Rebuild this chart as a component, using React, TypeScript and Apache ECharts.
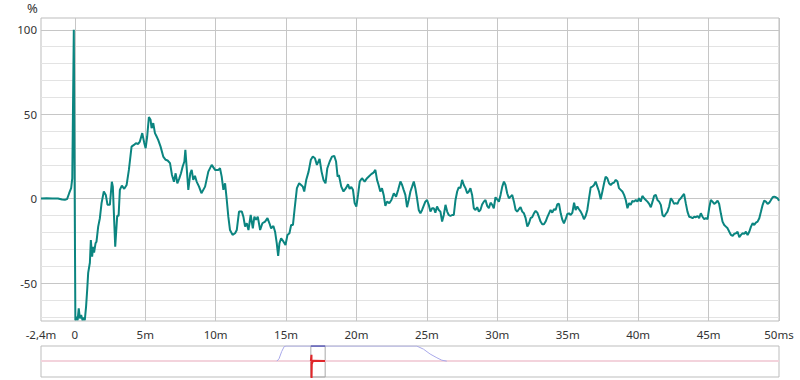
import React, { useEffect, useRef } from "react";
import * as echarts from "echarts";

// Impulse response, time in ms, value in %
const irStart: [number, number][] = [
  [-2.4, 0], [-2.0, 0.2], [-1.6, 0], [-1.2, 0.1], [-0.9, -0.5], [-0.7, -0.7], [-0.55, -0.3],
  [-0.4, 3.2], [-0.26, 6.2], [-0.18, 12], [-0.07, 100], [0.04, -72], [0.12, -70], [0.2, -72],
  [0.28, -65], [0.36, -71], [0.45, -69], [0.55, -72], [0.64, -70.5], [0.71, -72],
  [0.8, -64], [0.88, -54], [0.95, -44], [1.07, -38], [1.14, -24.5], [1.23, -34.4], [1.3, -28.5],
  [1.37, -32], [1.47, -26.5], [1.54, -25.5], [1.66, -16.6], [1.78, -11.6], [1.9, -2.7], [2.06, 4.2],
  [2.2, 2.2], [2.32, -3.6], [2.49, -3.7], [2.63, 10], [2.7, 7.1], [2.87, -28.5], [3.01, -10.2],
  [3.11, -10.2], [3.2, 5.2], [3.34, 7.7], [3.51, 5.8], [3.68, 8.1], [3.84, 17], [4.03, 30.8],
  [4.2, 31.8], [4.34, 32.8], [4.5, 32.4], [4.62, 33.8], [4.79, 38.8], [4.93, 33], [5.03, 29.9],
  [5.14, 36.8], [5.26, 48.3], [5.38, 46.7], [5.45, 41.7], [5.57, 44.7], [5.69, 38.8], [5.81, 36.8],
  [5.92, 34.8], [6.09, 30.8], [6.28, 24.9], [6.45, 23], [6.59, 22.6], [6.76, 21], [6.9, 14],
  [7.04, 10], [7.16, 15], [7.28, 9.1], [7.42, 12],
];
const irEarly: [number, number][] = [
  [7.54, 15], [7.66, 19], [7.78, 22], [7.85, 28.9], [8.0, 12], [8.06, 5.2], [8.2, 15], [8.3, 17],
  [8.41, 11.1], [8.53, 13.5], [8.65, 10.1], [8.82, 7.1], [8.99, 3.2], [9.25, 7.1], [9.48, 16],
  [9.72, 20], [9.96, 17], [10.2, 17], [10.31, 18], [10.43, 13], [10.55, 5.2], [10.67, 9.1],
  [10.79, -0.8], [10.9, -10.7], [11.02, -18.6], [11.2, -21.5], [11.38, -20.5], [11.5, -18.6],
  [11.66, -7.7], [11.86, -7.7], [11.97, -10.7], [12.09, -16.6], [12.21, -14.6], [12.33, -18.6],
  [12.49, -9.7], [12.64, -17.6], [12.75, -10.7], [12.87, -12.6], [12.99, -10.7], [13.16, -18.6],
  [13.32, -14.6], [13.51, -13.6], [13.68, -11.6], [13.82, -14.6], [13.94, -17.6], [14.1, -16.2],
  [14.22, -19.6], [14.34, -26.5], [14.44, -34], [14.53, -26.5], [14.65, -23.5], [14.82, -25.5],
  [14.96, -27.5], [15.1, -21.5], [15.24, -20.5], [15.36, -15.6], [15.49, -15.6], [15.6, -6.7],
  [15.77, 6.2], [15.93, 9.1], [16.07, 8.1], [16.19, 7.1], [16.29, 4.2], [16.43, 11], [16.6, 16],
  [16.76, 23], [16.9, 24.9], [17.05, 23.9], [17.19, 20], [17.38, 23.5], [17.52, 16], [17.66, 11],
  [17.8, 9.1], [17.93, 18], [18.1, 22], [18.26, 24.9], [18.42, 25.3],
];
const irMiddle: [number, number][] = [
  [18.55, 22], [18.66, 13], [18.75, 14], [18.92, 7.1], [19.08, 4.2], [19.25, 6.2], [19.4, 8.5],
  [19.51, 5.8], [19.63, 6.9], [19.75, 5.2], [19.87, -2.7], [19.99, -4.7], [20.11, 2.2], [20.23, 10.1],
  [20.39, 12.1], [20.58, 10.1], [20.75, 12.1], [20.86, 13], [21.05, 14.5], [21.21, 15.4], [21.34, 17],
  [21.46, 11.1], [21.57, 8.1], [21.69, 4.2], [21.81, 6.2], [21.93, 2.2], [22.05, -4.3], [22.17, -1.8],
  [22.33, -2.7], [22.48, -0.8], [22.65, 3.2], [22.81, 1.2], [22.96, 5.2], [23.12, 10.1], [23.24, 8.1],
  [23.35, 5.2], [23.47, 2.2], [23.59, -5.1], [23.71, -0.8], [23.83, 4.2], [23.95, 7.1], [24.07, 10.1],
  [24.18, 6.2], [24.3, 0.2], [24.42, -6.7], [24.54, -8.7], [24.66, -6.7], [24.77, -4.3], [24.89, -1.8],
  [25.01, -0.8], [25.13, -3.7], [25.25, -7.7], [25.37, -5.7], [25.49, -5.7], [25.6, -8.3], [25.72, -4.7],
  [25.84, -6.7], [25.96, -7.7], [26.08, -13.6], [26.2, -9.7], [26.32, -3.7], [26.44, -7.7], [26.55, -9.7],
  [26.67, -10.3], [26.79, -9.7], [26.91, -9.7], [27.03, -0.8], [27.15, 4.2], [27.26, 6.7], [27.38, 6.2],
  [27.5, 11.1], [27.62, 8.1], [27.74, 6.2], [27.86, 3.2], [27.98, 4.2], [28.09, 6.2], [28.21, 2.2],
  [28.33, -5.7], [28.45, -6.7], [28.57, -5.1], [28.69, -7.7], [28.8, -6.7],
];
const irLate: [number, number][] = [
  [28.92, -3.5], [29.04, -1.8], [29.16, -0.8], [29.28, -4.3], [29.4, -5.7], [29.52, -2.4], [29.64, -3.7],
  [29.75, -5.7], [29.87, 0.8], [29.99, -0.4], [30.11, -1.8], [30.23, 2.2], [30.35, 7.1], [30.47, 10.1],
  [30.58, 8.1], [30.7, 3.2], [30.82, 0.2], [30.94, 1.2], [31.06, 2.2], [31.18, -1.8], [31.3, -6.7],
  [31.41, -7.7], [31.53, -6.3], [31.65, -5.1], [31.77, -7.7], [31.89, -8.7], [32.01, -11.6], [32.13, -16.6],
  [32.25, -14.6], [32.36, -11.6], [32.48, -11], [32.6, -8.7], [32.72, -7.3], [32.84, -8.3], [32.96, -11],
  [33.07, -13.6], [33.19, -15.2], [33.31, -15.2], [33.43, -13.6], [33.55, -11], [33.67, -8.7], [33.78, -6.7],
  [33.9, -8.3], [34.02, -6.3], [34.14, -6.7], [34.26, -3.3], [34.38, -3.1], [34.5, -8.7], [34.62, -12.6],
  [34.73, -14.6], [34.85, -12.2], [34.97, -9.1], [35.09, -8.7], [35.21, -9.7], [35.33, -8.3], [35.45, -2.4],
  [35.56, -6.7], [35.68, -4.7], [35.8, -6.3], [35.92, -7.7], [36.04, -9.7], [36.15, -12.2], [36.27, -10.3],
  [36.39, -6.7], [36.51, 0.2], [36.63, 6.7], [36.75, 7.1], [36.87, 8.1], [36.98, 10.1], [37.1, 7.1],
  [37.22, 4.2], [37.34, -0.4], [37.46, 4.2], [37.58, 9.1], [37.69, 13], [37.81, 12.1], [37.93, 9.1],
  [38.05, 8.1], [38.17, 9.1], [38.29, 9.5], [38.41, 11.1], [38.53, 10.1], [38.64, 6.2], [38.76, 5.2],
  [38.88, 4.2], [39.0, 2.2], [39.12, -0.8], [39.24, -5.7],
];
const irTail: [number, number][] = [
  [39.36, -2.7], [39.47, -3.7], [39.59, -1.4], [39.71, -1.8], [39.83, -0.8], [39.95, -1.8], [40.06, 0.2],
  [40.18, -1.8], [40.3, 1.6], [40.42, 0.2], [40.54, -0.8], [40.66, -1.8], [40.78, -3.1], [40.9, -5.1],
  [41.02, -1.8], [41.13, 1.6], [41.25, 2.2], [41.37, -0.8], [41.49, -1.8], [41.61, -3.7], [41.73, -9.7],
  [41.84, -10.7], [41.96, -9.1], [42.08, -7.7], [42.2, -4.7], [42.32, 0.2], [42.44, -1.2], [42.55, -3.1],
  [42.67, -2.7], [42.79, -3.1], [42.91, -0.8], [43.03, 0.2], [43.15, 1.6], [43.26, 2.8], [43.38, -2.7],
  [43.5, -7.7], [43.62, -10.7], [43.74, -11], [43.86, -11.6], [43.98, -10.7], [44.1, -11], [44.22, -10.3],
  [44.33, -11.6], [44.45, -8.7], [44.57, -10.7], [44.69, -12.2], [44.81, -11.6], [44.93, -12.2], [45.04, -5.7],
  [45.16, -0.8], [45.28, -1.8], [45.4, -3.1], [45.52, -2.4], [45.64, -1.2], [45.75, -3.1], [45.87, -8.7],
  [45.99, -13.6], [46.11, -15.6], [46.23, -16.6], [46.35, -17.6], [46.47, -19.6], [46.59, -21.5], [46.71, -22.1],
  [46.82, -20.9], [46.94, -20.5], [47.06, -19.6], [47.18, -22.9], [47.3, -21.5], [47.42, -20.5], [47.53, -20.9],
  [47.65, -19.6], [47.77, -21.5], [47.89, -19.6], [48.01, -16.6], [48.13, -14.6], [48.24, -15.6], [48.36, -14.2],
  [48.48, -13.6], [48.6, -11.6], [48.72, -7.7], [48.84, -3.7], [48.95, -1.2], [49.07, -1.8], [49.19, -3.1],
  [49.31, -2.4], [49.43, -0.8], [49.55, 0.8], [49.66, 1.2], [49.78, 0.8], [49.9, 0.2], [50.0, -1.2],
];

const xLabelValues = [-2.4, 0, 5, 10, 15, 20, 25, 30, 35, 40, 45, 50];
const xGridValues = [0, 5, 10, 15, 20, 25, 30, 35, 40, 45, 50];
const yLabelValues = [-50, 0, 50, 100];
const yGridValues = [-70, -60, -50, -40, -30, -20, -10, 0, 10, 20, 30, 40, 50, 60, 70, 80, 90, 100];
const yUnit = "%";

// Navigator (overview) data, time in ms, value normalised
const navWindowCurve: [number, number][] = [
  [-127, 0], [-119, 0.15], [-109, 0.64], [-100, 0.96], [-93, 1], [385, 1], [410, 0.79],
  [434, 0.47], [459, 0.22], [477, 0.06], [495, 0],
];
const navImpulse: [number, number][] = [
  [-2.4, 0], [-0.1, 0], [-0.05, 0.42], [0.05, -1.3], [1, -0.2], [5, 0.02], [50, 0],
];
const viewStart = -2.4;
const viewEnd = 50;

function fmtX(v: number): string {
  if (v === 0) return "0";
  if (v === 50) return "50ms";
  return String(v).replace(".", ",") + "m";
}

export default function App() {
  const ref = useRef<HTMLDivElement>(null);
  useEffect(() => {
    if (!ref.current) return;
    const chart = echarts.init(ref.current, null, { renderer: "svg" });
    const font = "'Noto Sans', 'Open Sans', sans-serif";
    const minorColor = "#e3e3e3";
    const majorColor = "#c6c6c6";
    const ir = [...irStart, ...irEarly, ...irMiddle, ...irLate, ...irTail];
    chart.setOption({
      animation: false,
      graphic: [
        {
          type: "text", left: 27, top: 1,
          style: { text: yUnit, fill: "#333", fontSize: 13, fontFamily: font },
        },
      ],
      grid: [
        { left: 41, width: 738, top: 18, height: 303, show: true, borderColor: "#bdbdbd", borderWidth: 1, backgroundColor: "transparent" },
        { left: 41, width: 738, top: 346, height: 31, show: true, borderColor: "#bdbdbd", borderWidth: 1, backgroundColor: "transparent" },
      ],
      xAxis: [
        {
          type: "value", gridIndex: 0, min: -2.4, max: 50,
          axisLine: { show: false },
          axisTick: { show: false, customValues: xGridValues },
          splitLine: { show: true, lineStyle: { color: majorColor, width: 1 } },
          axisLabel: { customValues: xLabelValues, formatter: fmtX, color: "#333", fontSize: 11.5, fontFamily: font, margin: 7 },
        },
        {
          type: "value", gridIndex: 1, min: -990, max: 1711, show: false,
          splitLine: { show: false },
        },
      ],
      yAxis: [
        {
          type: "value", gridIndex: 0, min: -72.5, max: 107,
          axisLine: { show: false },
          axisTick: { show: false, customValues: yGridValues },
          splitLine: {
            show: true,
            lineStyle: { color: [minorColor, minorColor, majorColor, minorColor, minorColor], width: 1 },
          },
          axisLabel: { customValues: yLabelValues, color: "#333", fontSize: 11.5, fontFamily: font, margin: 4 },
        },
        {
          type: "value", gridIndex: 1, min: -1.05, max: 1, show: false,
          splitLine: { show: false },
        },
      ],
      series: [
        {
          type: "line", xAxisIndex: 0, yAxisIndex: 0, data: ir, showSymbol: false, symbol: "none",
          clip: true, lineStyle: { color: "#0b8580", width: 2 }, silent: true,
        },
        {
          type: "line", xAxisIndex: 1, yAxisIndex: 1, data: navWindowCurve, symbol: "none",
          lineStyle: { color: "#a9a9ea", width: 1 }, silent: true, z: 3,
          markLine: {
            silent: true, symbol: "none", label: { show: false },
            lineStyle: { color: "#f3d3dc", width: 2, type: "solid" },
            data: [{ yAxis: 0 }],
            z: 1,
          },
        },
        {
          type: "line", xAxisIndex: 1, yAxisIndex: 1,
          data: [[viewStart, 1], [viewEnd, 1]], symbol: "none",
          lineStyle: { color: "#5a5ab8", width: 1.5 }, silent: true, z: 4,
        },
        {
          type: "line", xAxisIndex: 1, yAxisIndex: 1, data: navImpulse, symbol: "none", clip: true,
          lineStyle: { color: "#e0262a", width: 2 }, silent: true, z: 5,
          markArea: {
            silent: true,
            itemStyle: { color: "rgba(0,0,0,0)", borderColor: "#a8a8a8", borderWidth: 1 },
            data: [[{ xAxis: viewStart, yAxis: -1.05 }, { xAxis: viewEnd, yAxis: 1 }]],
          },
        },
      ],
    });
    return () => chart.dispose();
  }, []);
  return <div ref={ref} style={{ width: 800, height: 380, position: "absolute", left: 0, top: 0 }} />;
}
